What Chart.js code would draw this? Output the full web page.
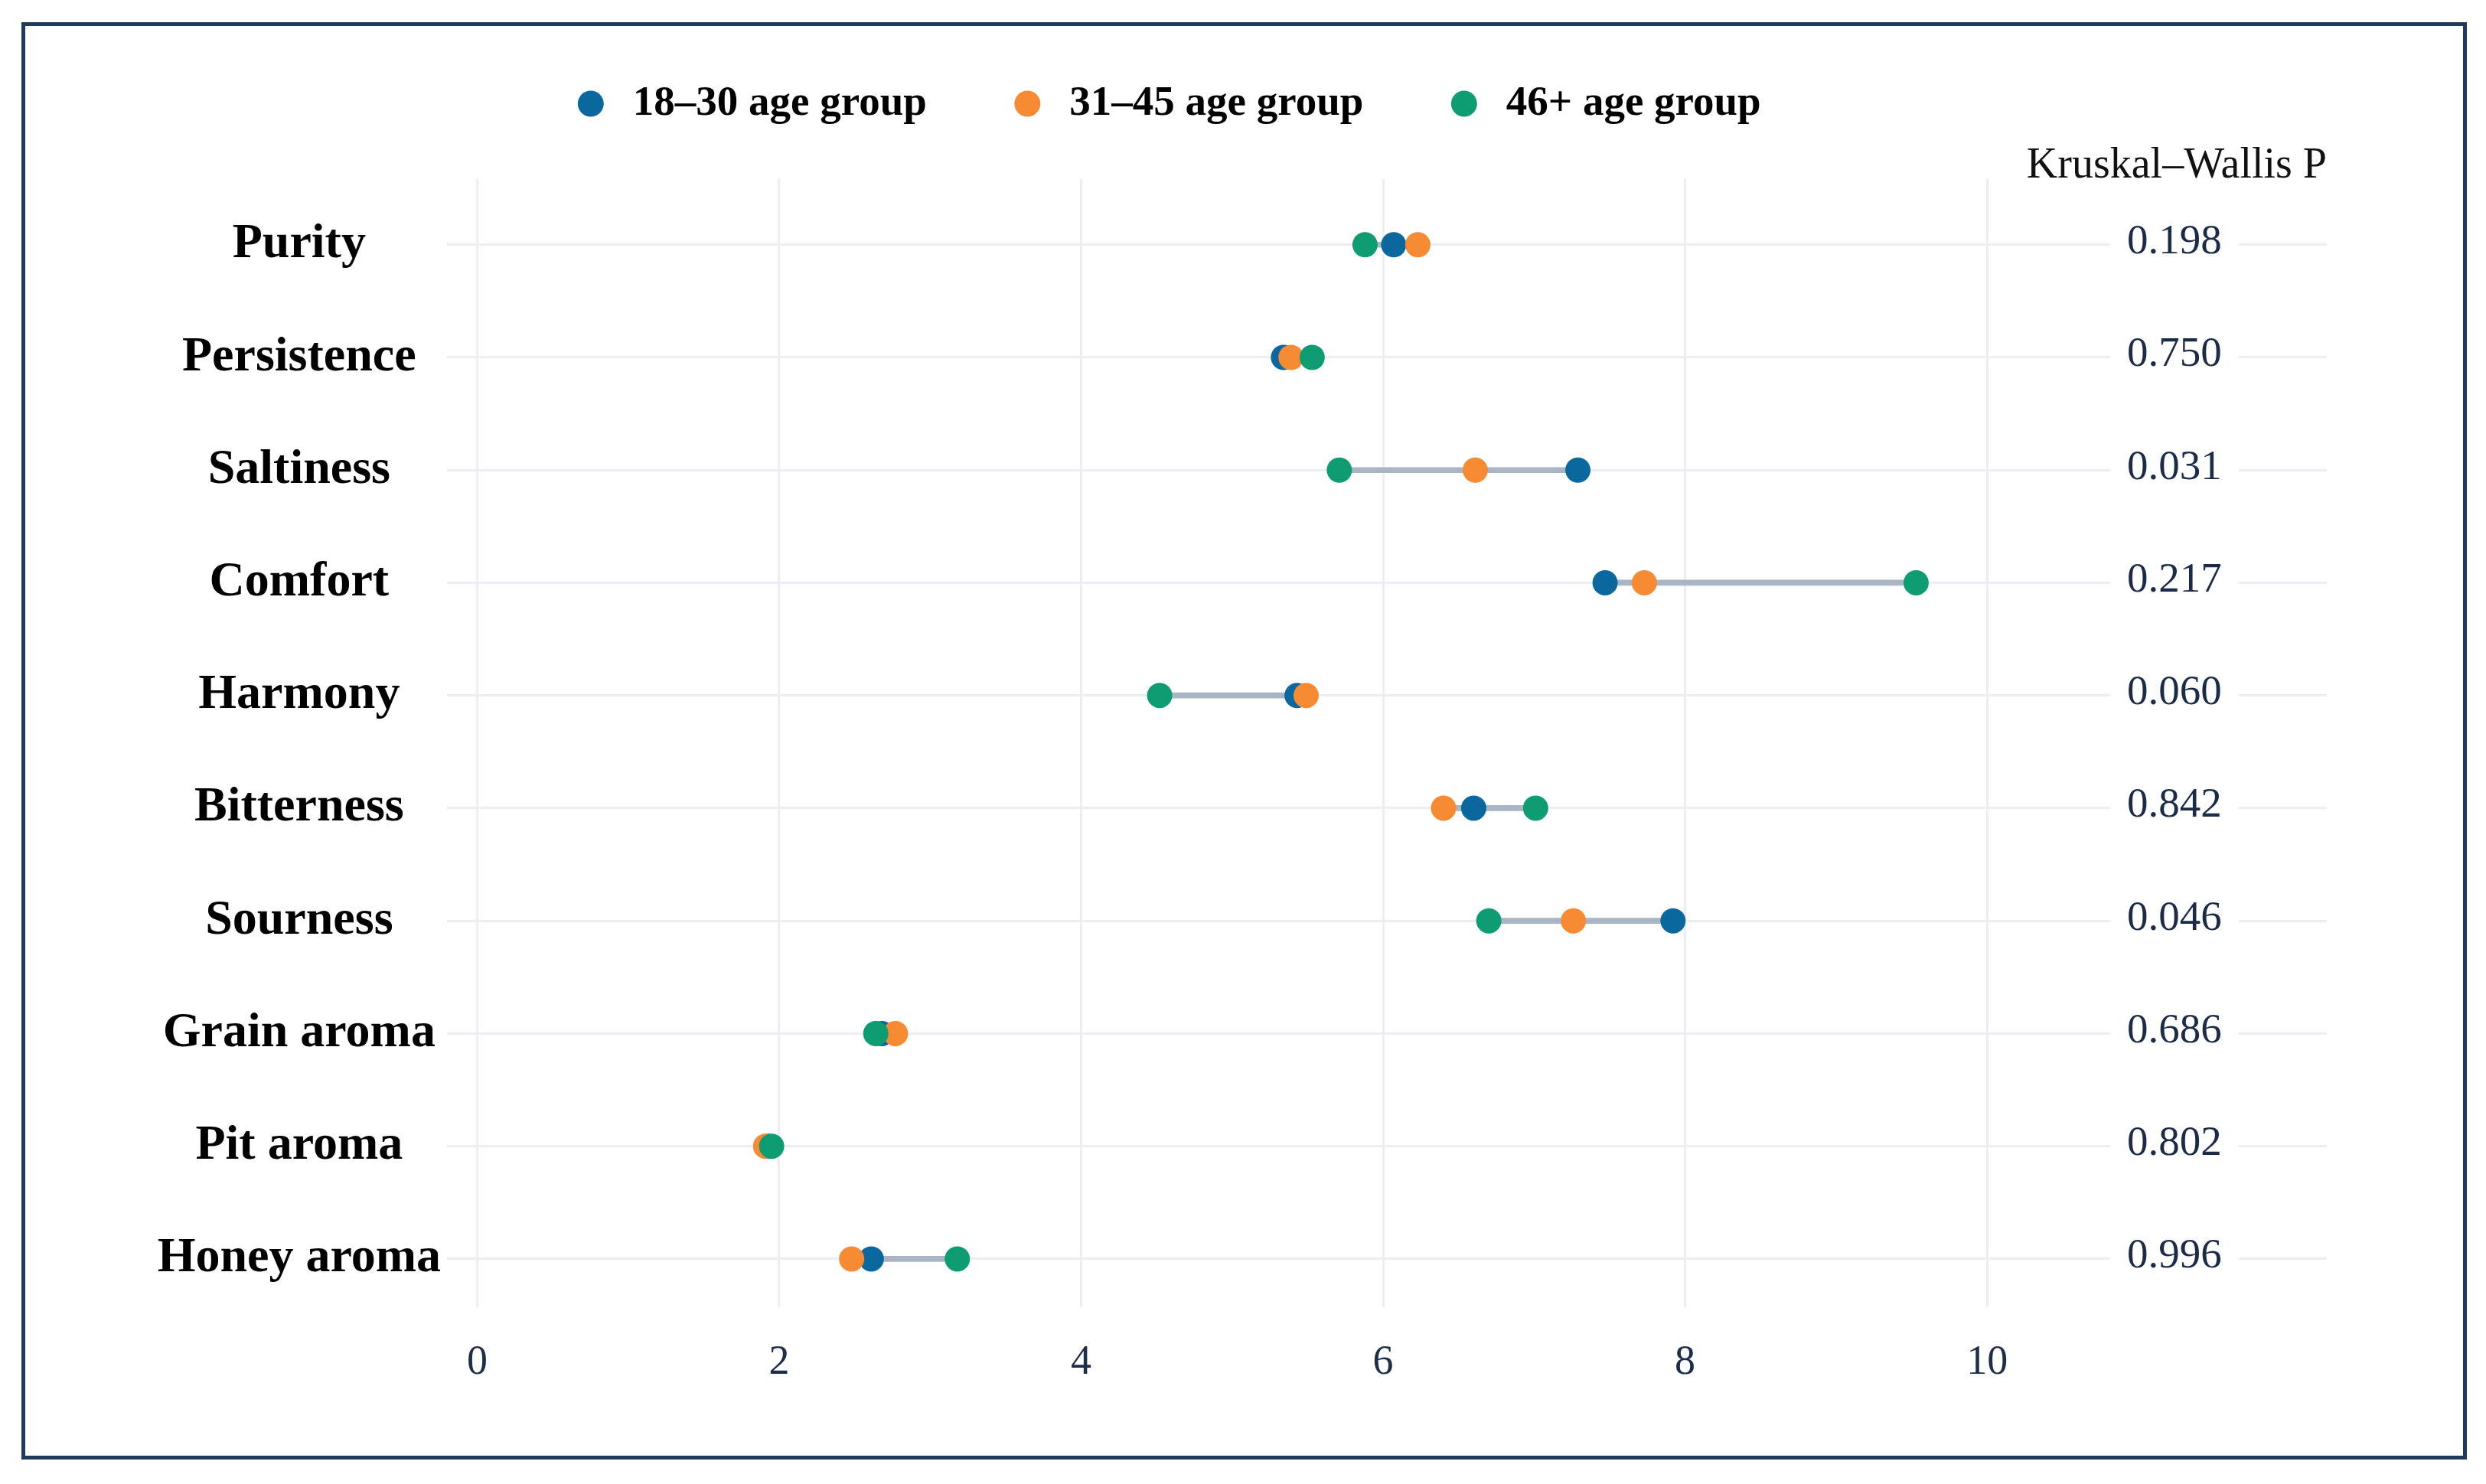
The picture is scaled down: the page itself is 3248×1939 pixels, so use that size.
<!DOCTYPE html>
<html lang="en">
<head>
    <meta charset="UTF-8">
    <title>Sensory scores by age group</title>
    <script src="https://cdn.jsdelivr.net/npm/chart.js"></script>
    <style>
        html, body { margin: 0; padding: 0; background: #ffffff; }
        .chart-container { position: relative; width: 3248px; height: 1939px; }
        .frame {
            position: absolute; left: 28px; top: 29px; width: 3195px; height: 1878px;
            border: 5px solid #1f3a5f; box-sizing: border-box; pointer-events: none;
        }
    </style>
</head>
<body>
    <div class="chart-container">
        <canvas id="dumbbellChart"></canvas>
        <div class="frame"></div>
    </div>

    <script>
        // values (mean scores per attribute)
        const attributes = ['Purity', 'Persistence', 'Saltiness', 'Comfort', 'Harmony',
                            'Bitterness', 'Sourness', 'Grain aroma', 'Pit aroma', 'Honey aroma'];
        const age18to30 = [6.07, 5.34, 7.29, 7.47, 5.43, 6.60, 7.92, 2.68, 1.93, 2.61];
        const age31to45 = [6.23, 5.39, 6.61, 7.73, 5.49, 6.40, 7.26, 2.77, 1.91, 2.48];
        const age46plus = [5.88, 5.53, 5.71, 9.53, 4.52, 7.01, 6.70, 2.64, 1.95, 3.18];
        const kruskalP  = ['0.198', '0.750', '0.031', '0.217', '0.060',
                           '0.842', '0.046', '0.686', '0.802', '0.996'];
        const xTicks = [0, 2, 4, 6, 8, 10];
        const groupNames = ['18\u201330 age group', '31\u201345 age group', '46+ age group'];
        const groupColors = ['#0b689f', '#f68b33', '#0e9c72'];

        const serif = "'Liberation Serif', 'Times New Roman', serif";
        const pColumnX = 11.24;   // where the P column sits on the x scale

        const points = arr => arr.map((v, i) => ({ x: v, y: i }));
        const ranges = attributes.map((a, i) => {
            const vals = [age18to30[i], age31to45[i], age46plus[i]];
            return { y: i, x: [Math.min(...vals), Math.max(...vals)] };
        });

        // P values with a white box behind them, like geom_label
        const pValuePlugin = {
            id: 'pValues',
            afterDatasetsDraw(chart) {
                const { ctx, scales: { x, y } } = chart;
                ctx.save();
                ctx.font = '55px ' + serif;
                ctx.textAlign = 'center';
                ctx.textBaseline = 'middle';
                kruskalP.forEach((p, i) => {
                    const px = x.getPixelForValue(pColumnX);
                    const py = y.getPixelForValue(i);
                    const w = ctx.measureText(p).width + 44;
                    ctx.fillStyle = '#ffffff';
                    ctx.fillRect(px - w / 2, py - 26, w, 52);
                    ctx.fillStyle = '#1b2b48';
                    ctx.fillText(p, px, py - 3);
                });
                ctx.restore();
            }
        };

        const ctx = document.getElementById('dumbbellChart').getContext('2d');
        new Chart(ctx, {
            type: 'scatter',
            data: {
                datasets: [
                    { label: groupNames[0], data: points(age18to30), backgroundColor: groupColors[0], order: 3 },
                    { label: groupNames[1], data: points(age31to45), backgroundColor: groupColors[1], order: 2 },
                    { label: groupNames[2], data: points(age46plus), backgroundColor: groupColors[2], order: 1 },
                    {
                        type: 'bar', label: 'range', data: ranges, indexAxis: 'y',
                        backgroundColor: '#a9b4c4', barThickness: 7, order: 4
                    }
                ]
            },
            options: {
                responsive: true,
                maintainAspectRatio: false,
                animation: false,
                layout: { padding: { left: 5, right: 208, top: 4, bottom: 86 } },
                elements: {
                    point: { radius: 16.5, hoverRadius: 16.5, borderWidth: 0, pointStyle: 'circle' }
                },
                plugins: {
                    tooltip: { enabled: false },
                    legend: {
                        position: 'top',
                        align: 'center',
                        labels: {
                            usePointStyle: true,
                            boxWidth: 55,
                            boxHeight: 24,
                            padding: 104,
                            color: '#000000',
                            font: { family: serif, size: 55, weight: 'bold' },
                            filter: item => item.datasetIndex < 3,
                            sort: (a, b) => a.datasetIndex - b.datasetIndex
                        }
                    },
                    title: {
                        display: true,
                        text: 'Kruskal\u2013Wallis P',
                        position: 'top',
                        align: 'end',
                        weight: 500,
                        color: '#111111',
                        font: { family: serif, size: 56, weight: 'normal', lineHeight: 0.6 },
                        padding: { top: 27, bottom: 0 }
                    }
                },
                scales: {
                    x: {
                        type: 'linear',
                        min: -0.2,
                        max: 12.25,
                        afterBuildTicks: scale => { scale.ticks = xTicks.map(v => ({ value: v })); },
                        grid: { color: '#eceef2', lineWidth: 3, drawTicks: false },
                        border: { display: false },
                        ticks: {
                            color: '#1e2d4a',
                            padding: 40,
                            font: { family: serif, size: 54 }
                        }
                    },
                    y: {
                        type: 'linear',
                        reverse: true,
                        offset: false,
                        min: -0.585,
                        max: 9.43,
                        afterBuildTicks: scale => { scale.ticks = attributes.map((a, i) => ({ value: i })); },
                        afterFit: scale => { scale.width = 579; },
                        grid: { color: '#eceef2', lineWidth: 3, drawTicks: false, offset: false },
                        border: { display: false },
                        ticks: {
                            color: '#000000',
                            padding: 8,
                            crossAlign: 'center',
                            font: { family: serif, size: 64, weight: 'bold' },
                            callback: value => attributes[value]
                        }
                    }
                }
            },
            plugins: [pValuePlugin]
        });
    </script>
</body>
</html>
